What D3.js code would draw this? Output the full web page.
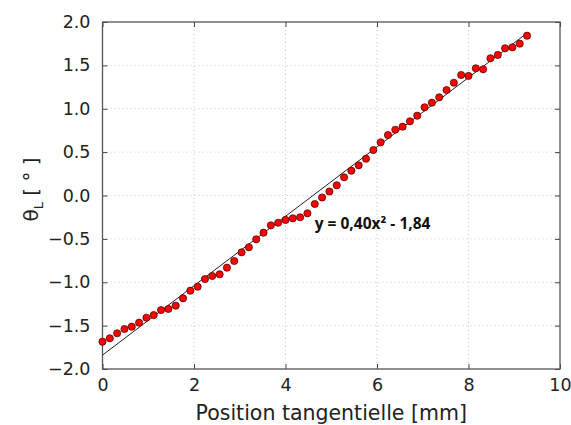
<!DOCTYPE html>
<html lang="fr">
<head>
  <meta charset="utf-8">
  <title>Position tangentielle</title>
  <style type="text/css">
    body { margin: 0; background: #fff; }
    svg { display: block; }
    .tick text { font-family: "DejaVu Sans", sans-serif; font-size: 17.5px; fill: #222; }
  </style>
  <script src="https://cdnjs.cloudflare.com/ajax/libs/d3/7.8.5/d3.min.js"></script>
</head>
<body>
<div id="chart"></div>
<script>
  // measured points (position in mm, angle in degrees)
  var positions = [0, 0.16, 0.32, 0.48, 0.64, 0.80, 0.96, 1.12, 1.28, 1.44,
    1.60, 1.76, 1.92, 2.08, 2.24, 2.40, 2.56, 2.72, 2.88, 3.04,
    3.20, 3.36, 3.52, 3.68, 3.84, 4.00, 4.16, 4.32, 4.48, 4.64,
    4.80, 4.96, 5.12, 5.28, 5.44, 5.60, 5.76, 5.92, 6.08, 6.24,
    6.40, 6.56, 6.72, 6.88, 7.04, 7.20, 7.36, 7.52, 7.68, 7.84,
    8.00, 8.16, 8.32, 8.48, 8.64, 8.80, 8.96, 9.12, 9.28];
  var angles = [-1.685, -1.646, -1.588, -1.539, -1.512, -1.466, -1.409, -1.378, -1.320, -1.308,
    -1.270, -1.185, -1.097, -1.051, -0.963, -0.928, -0.908, -0.832, -0.755, -0.655,
    -0.597, -0.505, -0.429, -0.344, -0.314, -0.282, -0.263, -0.251, -0.205, -0.098,
    -0.023, 0.046, 0.118, 0.210, 0.286, 0.348, 0.424, 0.524, 0.613, 0.697,
    0.758, 0.793, 0.855, 0.920, 1.017, 1.070, 1.132, 1.216, 1.300, 1.389,
    1.378, 1.466, 1.455, 1.582, 1.620, 1.697, 1.708, 1.750, 1.842];

  // linear fit drawn over the points
  var fitSlope = 0.40, fitIntercept = -1.84;
  var fitRange = [0, 9.28];
  var fitLabel = "y = 0,40x² - 1,84";

  var xTicks = [0, 2, 4, 6, 8, 10];
  var yTicks = [-2.0, -1.5, -1.0, -0.5, 0.0, 0.5, 1.0, 1.5, 2.0];

  var width = 571, height = 425;
  var margin = {top: 22, right: 11, bottom: 56, left: 102.5};
  var w = width - margin.left - margin.right,
      h = height - margin.top - margin.bottom;

  var svg = d3.select("#chart").append("svg")
    .attr("width", width)
    .attr("height", height);

  var g = svg.append("g")
    .attr("transform", "translate(" + margin.left + "," + margin.top + ")");

  var x = d3.scaleLinear().domain([0, 10]).range([0, w]);
  var y = d3.scaleLinear().domain([-2, 2]).range([h, 0]);

  // dotted grid
  g.append("g").selectAll("line")
    .data(xTicks.slice(1, -1))
    .enter().append("line")
    .attr("x1", function(d) { return x(d); })
    .attr("x2", function(d) { return x(d); })
    .attr("y1", 0).attr("y2", h)
    .attr("stroke", "#c8c8c8")
    .attr("stroke-width", 1)
    .attr("stroke-dasharray", "1,3");

  g.append("g").selectAll("line")
    .data(yTicks.slice(1, -1))
    .enter().append("line")
    .attr("y1", function(d) { return y(d); })
    .attr("y2", function(d) { return y(d); })
    .attr("x1", 0).attr("x2", w)
    .attr("stroke", "#c8c8c8")
    .attr("stroke-width", 1)
    .attr("stroke-dasharray", "1,3");

  // axes, ticks pointing inwards
  g.append("g")
    .attr("transform", "translate(0," + h + ")")
    .call(d3.axisBottom(x).tickValues(xTicks).tickFormat(d3.format("d"))
      .tickSizeInner(-5).tickSizeOuter(0).tickPadding(10));
  g.append("g")
    .call(d3.axisLeft(y).tickValues(yTicks).tickFormat(d3.format(".1f"))
      .tickSizeInner(-5).tickSizeOuter(0).tickPadding(12));
  g.append("g")
    .call(d3.axisTop(x).tickValues(xTicks).tickFormat("")
      .tickSizeInner(-5).tickSizeOuter(0));
  g.append("g")
    .attr("transform", "translate(" + w + ",0)")
    .call(d3.axisRight(y).tickValues(yTicks).tickFormat("")
      .tickSizeInner(-5).tickSizeOuter(0));

  svg.selectAll(".domain").remove();
  svg.selectAll(".tick line").attr("stroke", "#444");

  g.append("rect")
    .attr("width", w).attr("height", h)
    .attr("fill", "none")
    .attr("stroke", "#555")
    .attr("stroke-width", 1.3);

  // fit line
  g.append("line")
    .attr("x1", x(fitRange[0]))
    .attr("y1", y(fitSlope * fitRange[0] + fitIntercept))
    .attr("x2", x(fitRange[1]))
    .attr("y2", y(fitSlope * fitRange[1] + fitIntercept))
    .attr("stroke", "#222")
    .attr("stroke-width", 1);

  // points
  var points = positions.map(function(p, i) { return {x: p, y: angles[i]}; });
  g.append("g").selectAll("circle")
    .data(points)
    .enter().append("circle")
    .attr("cx", function(d) { return x(d.x); })
    .attr("cy", function(d) { return y(d.y); })
    .attr("r", 3.6)
    .attr("fill", "#ff0000")
    .attr("stroke", "#3a0000")
    .attr("stroke-width", 0.7);

  // equation
  g.append("text")
    .attr("x", x(4.64))
    .attr("y", y(-0.385))
    .attr("font-family", "'Open Sans', sans-serif")
    .attr("font-weight", "bold")
    .attr("font-size", "15.5px")
    .attr("fill", "#111")
    .text(fitLabel);

  // axis titles
  svg.append("text")
    .attr("x", margin.left + w / 2 + 0)
    .attr("y", 420)
    .attr("text-anchor", "middle")
    .attr("font-family", "'DejaVu Sans', sans-serif")
    .attr("font-size", "20.5px")
    .attr("fill", "#222")
    .text("Position tangentielle [mm]");

  var yl = svg.append("text")
    .attr("transform", "translate(38," + (margin.top + h / 2 - 6) + ") rotate(-90)")
    .attr("text-anchor", "middle")
    .attr("font-family", "'DejaVu Sans', sans-serif")
    .attr("font-size", "20px")
    .attr("fill", "#222");
  yl.append("tspan").text("θ");
  yl.append("tspan").attr("font-size", "13px").attr("dy", 5).text("L");
  yl.append("tspan").attr("dy", -5).text(" [ ° ]");
</script>
</body>
</html>
